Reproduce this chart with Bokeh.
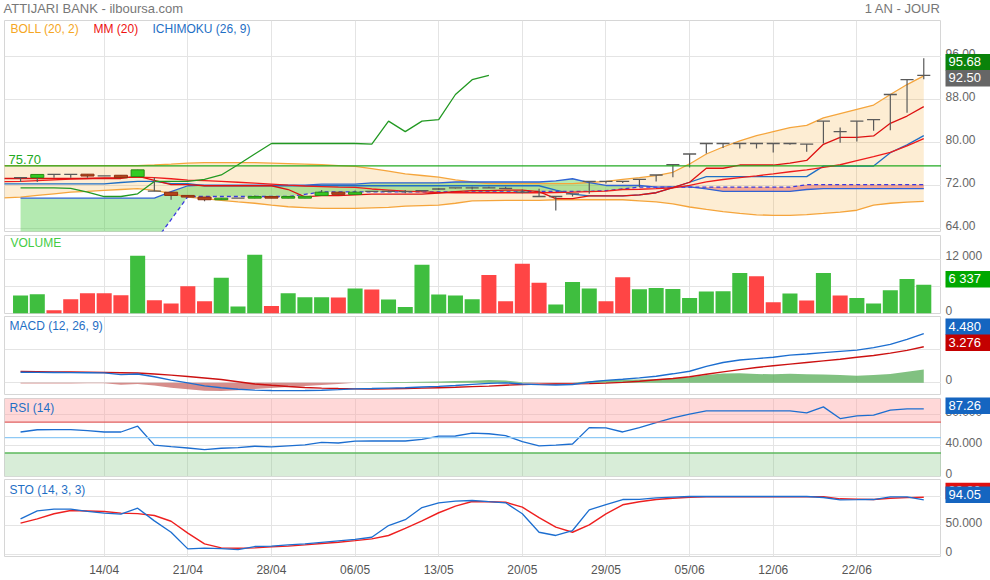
import numpy as np
from bokeh.plotting import figure
from bokeh.layouts import column, row
from bokeh.models import Range1d, FixedTicker, Label, Span, BoxAnnotation, ColumnDataSource
from bokeh.core.properties import value
from bokeh.embed import file_html
from bokeh.resources import INLINE

FONT = "Liberation Sans"

# ---------------- data ----------------
tick_idx = [5, 10, 15, 20, 25, 30, 35, 40, 45, 50]
tick_labels = ["14/04", "21/04", "28/04", "06/05", "13/05", "20/05", "29/05", "05/06", "12/06", "22/06"]

opens = [73.5, 73.5, 74.1, 74.1, 74.15, 73.85, 73.95, 73.7, 71.0, 70.8,
         70.2, 69.9, 69.4, 69.7, 69.7, 70.0, 69.7, 69.7, 70.2, 70.8,
         70.4, 70.95, 70.95, 70.9, 71.1, 71.4, 71.6, 71.6, 71.6, 71.5,
         70.8, 70.0, 70.0, 70.5, 72.8, 72.8, 72.8, 73.2, 74.0, 75.9,
         77.9, 79.85, 79.85, 79.85, 79.85, 79.85, 79.85, 79.75, 84.0, 82.05,
         84.0, 84.3, 88.95, 91.7, 92.5]
highs = [73.5, 74.1, 74.1, 74.1, 74.15, 73.85, 73.95, 74.95, 73.5, 70.8,
         70.2, 69.9, 69.7, 69.7, 70.2, 70.0, 70.0, 70.05, 71.2, 70.8,
         71.1, 70.95, 71.1, 71.2, 71.1, 71.6, 71.6, 71.8, 71.8, 71.8,
         71.3, 71.45, 70.0, 70.5, 72.8, 72.8, 72.8, 73.2, 74.0, 75.9,
         77.9, 79.85, 79.85, 79.85, 79.85, 79.85, 79.85, 79.75, 84.0, 82.8,
         84.0, 84.3, 88.95, 91.7, 95.68]
lows = [72.7, 72.7, 73.5, 73.5, 73.5, 73.85, 73.5, 73.7, 71.0, 69.4,
        69.9, 69.1, 69.4, 69.7, 69.7, 69.7, 69.7, 69.7, 70.2, 70.4,
        70.4, 70.95, 70.95, 70.6, 70.9, 71.2, 71.5, 71.3, 71.6, 71.5,
        70.6, 70.0, 67.4, 70.0, 70.5, 72.4, 72.5, 71.75, 72.8, 73.6,
        75.4, 78.0, 79.0, 78.9, 78.9, 78.2, 79.6, 78.3, 79.85, 80.0,
        80.2, 82.2, 82.3, 85.55, 91.8]
closes = [73.5, 74.1, 74.1, 74.1, 73.8, 73.85, 73.5, 74.95, 71.0, 70.2,
          69.9, 69.4, 69.7, 69.7, 70.0, 69.7, 70.0, 70.05, 70.8, 70.4,
          70.8, 70.95, 70.95, 70.9, 71.1, 71.4, 71.6, 71.6, 71.6, 71.5,
          70.8, 70.0, 70.0, 70.5, 72.8, 72.8, 72.8, 73.2, 74.0, 75.9,
          77.9, 79.85, 79.85, 79.85, 79.85, 79.85, 79.85, 79.75, 84.0, 82.05,
          84.0, 84.3, 88.95, 91.7, 92.5]

volumes = [3960, 4250, 740, 3130, 4470, 4470, 4020, 12740, 2900, 2230,
           6030, 2680, 7890, 1560, 12960, 1630, 4470, 3580, 3580, 3510,
           5520, 5300, 3060, 1410, 10730, 4180, 3960, 3130, 8490, 2680,
           10950, 6770, 2010, 6930, 5520, 2680, 7980, 5360, 5650, 5430,
           3420, 4850, 4920, 8940, 8200, 2460, 4400, 2840, 8940, 3960,
           3420, 2230, 5140, 7600, 6337]
vol_up = [1, 1, 0, 0, 0, 0, 0, 1, 0, 0,
          0, 0, 1, 1, 1, 0, 1, 1, 1, 0,
          1, 0, 1, 1, 1, 1, 1, 1, 0, 0,
          0, 0, 1, 1, 1, 0, 0, 1, 1, 1,
          1, 1, 1, 1, 0, 0, 1, 0, 1, 0,
          1, 1, 1, 1, 1]

# indicators from day -1 to 54
bb_upper = [75.75, 75.75, 75.75, 75.75, 75.75, 75.75, 75.75, 75.75, 75.75, 75.85,
            76.0, 76.2, 76.3, 76.3, 76.3, 76.3, 76.2, 76.1, 76.0, 75.9,
            75.75, 75.6, 75.2, 74.7, 74.2, 73.9, 73.6, 73.1, 72.7, 72.4,
            72.4, 72.4, 72.4, 72.4, 72.4, 72.6, 72.8, 73.2, 73.5, 73.9,
            74.5, 76.05, 77.9, 79.2, 80.35, 81.3, 82.05, 82.8, 83.2, 84.6,
            85.4, 86.2, 87.0, 88.95, 90.8, 92.4]
bb_lower = [69.75, 69.9, 70.2, 70.5, 70.8, 70.95, 71.15, 71.3, 71.45, 71.15,
            70.6, 69.9, 69.6, 69.3, 69.0, 68.75, 68.4, 68.1, 67.95, 67.8,
            67.8, 67.8, 67.9, 68.0, 68.2, 68.3, 68.4, 68.75, 69.2, 69.25,
            69.3, 69.3, 69.3, 69.4, 69.4, 69.4, 69.4, 69.4, 69.2, 69.0,
            68.65, 68.05, 67.6, 67.2, 66.85, 66.6, 66.5, 66.5, 66.65, 66.85,
            67.1, 67.45, 68.4, 68.75, 68.95, 69.1]
mm20 = [72.75, 72.8, 72.95, 73.1, 73.25, 73.35, 73.45, 73.5, 73.6, 73.5,
        73.3, 73.05, 72.95, 72.8, 72.65, 72.5, 72.3, 72.1, 71.95, 71.85,
        71.75, 71.7, 71.4, 71.2, 71.0, 70.85, 70.75, 70.7, 70.7, 70.7,
        70.7, 70.7, 70.7, 70.75, 70.8, 70.9, 71.0, 71.3, 71.35, 71.45,
        71.6, 72.05, 72.7, 73.16, 73.5, 73.84, 74.2, 74.6, 74.95, 75.4,
        75.9, 76.65, 77.4, 78.2, 79.4, 80.77]
tenkan = [73.35, 73.35, 73.35, 73.35, 73.35, 73.35, 73.35, 73.35, 73.8, 73.0,
          72.2, 72.2, 72.0, 72.0, 72.0, 72.0, 72.0, 71.3, 69.95, 70.15,
          70.15, 70.3, 70.45, 70.45, 70.45, 70.45, 70.65, 70.9, 71.1, 71.1,
          71.2, 71.2, 70.9, 69.6, 69.6, 70.1, 70.1, 70.1, 70.3, 70.7,
          71.65, 72.65, 75.25, 75.25, 75.85, 75.85, 75.85, 76.2, 76.7, 79.7,
          81.0, 81.0, 81.25, 83.6, 84.95, 86.7]
kijun = [72.35, 72.35, 72.35, 72.35, 72.35, 72.35, 72.35, 72.6, 72.8, 72.8,
         72.4, 72.4, 72.0, 72.0, 72.0, 72.0, 72.0, 72.0, 72.0, 72.0,
         72.0, 72.0, 72.0, 72.0, 72.0, 72.0, 72.0, 72.0, 72.0, 72.0,
         72.0, 72.0, 72.0, 71.2, 70.45, 70.1, 70.1, 70.1, 70.3, 70.7,
         71.65, 72.65, 73.7, 73.7, 73.7, 73.7, 73.7, 73.7, 73.7, 75.65,
         75.65, 75.65, 75.65, 78.15, 79.6, 81.3]
# cloud, days 0..54
senkou_a = [69.7, 69.7, 69.7, 69.7, 69.7, 69.7, 69.7, 69.7, 69.7, 70.9,
            72.0, 72.1, 72.1, 72.1, 72.1, 72.1, 72.1, 72.1, 72.3, 72.3,
            72.3, 72.55, 72.55, 72.55, 72.55, 72.55, 72.7, 72.7, 72.7, 72.7,
            72.7, 72.7, 72.9, 73.3, 72.6, 72.05, 72.05, 72.05, 71.75, 71.8,
            71.8, 71.4, 70.95, 70.95, 70.95, 70.95, 70.95, 71.3, 71.45, 71.45,
            71.45, 71.45, 71.45, 71.45, 71.45]
senkou_b = [58.0, 58.0, 58.0, 58.0, 58.0, 58.0, 58.0, 58.0, 61.5, 65.7,
            70.0, 70.0, 70.0, 70.0, 70.0, 70.0, 70.0, 70.4, 70.85, 70.85,
            70.85, 70.85, 70.85, 70.85, 70.85, 70.85, 70.85, 70.85, 70.85, 70.85,
            70.85, 70.95, 70.95, 70.95, 70.95, 71.1, 71.4, 71.75, 71.75, 71.75,
            71.75, 71.75, 71.75, 71.75, 71.75, 71.75, 71.75, 72.2, 72.2, 72.2,
            72.2, 72.2, 72.2, 72.2, 72.2]
ref_level = 75.70

macd = [0.96, 0.95, 0.94, 0.93, 0.92, 0.91, 0.75, 0.80, 0.55, 0.25,
        0.0, -0.28, -0.45, -0.58, -0.66, -0.70, -0.71, -0.70, -0.67, -0.62,
        -0.55, -0.52, -0.48, -0.44, -0.38, -0.32, -0.24, -0.14, -0.05, 0.0,
        -0.1, -0.16, -0.2, -0.15, 0.08, 0.22, 0.33, 0.45, 0.6, 0.82,
        1.05, 1.5, 1.85, 2.07, 2.2, 2.33, 2.52, 2.62, 2.75, 2.86,
        2.97, 3.2, 3.5, 3.95, 4.48]
signal = [1.03, 1.02, 1.0, 0.98, 0.96, 0.94, 0.92, 0.9, 0.8, 0.7,
          0.58, 0.44, 0.3, 0.1, -0.1, -0.22, -0.33, -0.42, -0.48, -0.52,
          -0.55, -0.56, -0.55, -0.52, -0.48, -0.44, -0.4, -0.34, -0.3, -0.22,
          -0.15, -0.12, -0.1, -0.09, -0.07, -0.03, 0.04, 0.15, 0.28, 0.4,
          0.55, 0.78, 1.0, 1.2, 1.4, 1.55, 1.7, 1.85, 2.0, 2.15,
          2.33, 2.48, 2.7, 2.95, 3.276]
rsi = [57.3, 60.2, 60.4, 60.4, 59.0, 57.3, 57.3, 64.8, 40.3, 38.2,
       36.5, 34.4, 36.2, 37.0, 38.8, 38.0, 39.3, 40.5, 43.9, 43.0,
       45.4, 45.6, 45.6, 45.6, 47.6, 52.0, 52.1, 55.8, 55.0, 52.6,
       44.8, 39.3, 40.2, 41.7, 63.0, 62.6, 57.3, 63.1, 69.5, 75.5,
       80.5, 84.7, 84.7, 84.7, 84.7, 84.7, 84.7, 82.1, 89.9, 74.8,
       78.3, 79.1, 85.6, 87.3, 87.26]
sto_k = [61.5, 75.3, 78.2, 78.2, 74.5, 71.3, 69.5, 79.9, 58.0, 38.5,
         9.8, 10.9, 10.0, 8.6, 13.8, 14.4, 16.5, 18.4, 21.0, 23.6,
         26.0, 29.8, 50.0, 60.0, 81.0, 89.1, 92.0, 93.1, 91.0, 89.1,
         70.2, 38.4, 32.8, 41.4, 77.0, 86.0, 94.8, 95.0, 97.5, 99.0,
         100, 100, 100, 100, 100, 100, 100, 100, 98.3, 94.3,
         94.5, 94.8, 99.5, 99.5, 94.05]
sto_d = [54.0, 61.5, 70.2, 75.9, 75.0, 74.1, 71.3, 70.5, 67.2, 57.4,
         37.0, 18.4, 11.5, 10.9, 11.5, 13.2, 14.5, 16.7, 19.0, 21.2,
         24.0, 27.0, 32.8, 45.0, 58.0, 72.0, 83.3, 91.4, 91.0, 90.2,
         81.6, 63.5, 47.1, 38.4, 51.2, 70.0, 85.7, 91.0, 94.8, 97.0,
         98.8, 99.5, 99.5, 99.5, 99.5, 99.5, 99.5, 99.5, 99.5, 96.0,
         95.5, 94.8, 97.0, 98.0, 98.8]

# ---------------- layout geometry (px) ----------------
HDR_H = 20
FRAME_W = 937
SIDE_W = 49
# name: (frame_h, y0, y1, border_top, border_bottom)
SPEC = {
    "main": (211, 63.5, 102.7, 0, 2),
    "vol": (78, 0, 17200, 2, 2),
    "macd": (78, -1.06, 6.03, 1, 2),
    "rsi": (78, -0.5, 100.8, 2, 2),
    "sto": (77, -3.4, 129.3, 1, 24),
}
ORDER = ["main", "vol", "macd", "rsi", "sto"]
FRAME_TOP = {}
_y = HDR_H
for _k in ORDER:
    fh, y0, y1, bt, bb = SPEC[_k]
    FRAME_TOP[_k] = _y + bt
    _y += bt + fh + bb
TOTAL_H = _y


def to_side(name, v):
    """pixel row (relative to the side column top) of value v in panel name"""
    fh, y0, y1, bt, bb = SPEC[name]
    return FRAME_TOP[name] - HDR_H + (y1 - v) * fh / (y1 - y0)


# ---------------- helpers ----------------
n = len(closes)
xi = np.arange(n)
xe = np.arange(-1, n)
o = np.array(opens); c = np.array(closes); h = np.array(highs); l = np.array(lows)
xr = Range1d(-0.96, 55.06)
GRID = "#e4e4e4"


def panel(name, ticks, xaxis=False):
    fh, y0, y1, bt, bb = SPEC[name]
    p = figure(frame_width=FRAME_W, frame_height=fh, x_range=xr, y_range=Range1d(y0, y1),
               output_backend="svg", toolbar_location=None,
               min_border_left=4, min_border_right=0, min_border_top=bt, min_border_bottom=bb,
               y_axis_location=None, x_axis_location="below" if xaxis else None)
    p.outline_line_color = "#d6d6d6"
    p.border_fill_color = "white"
    p.grid.grid_line_color = GRID
    p.xgrid.ticker = FixedTicker(ticks=tick_idx)
    p.ygrid.ticker = FixedTicker(ticks=ticks)
    return p


def title_label(p, text, color, x, y):
    p.add_layout(Label(x=x, y=y, x_units="screen", y_units="screen", text=text,
                       text_color=color, text_font=FONT, text_font_size="12px",
                       text_baseline="middle"))


# side column for value labels and last-value tags
side = figure(frame_width=SIDE_W, frame_height=TOTAL_H - HDR_H, x_range=Range1d(0, SIDE_W),
              y_range=Range1d(TOTAL_H - HDR_H, 0), output_backend="svg", toolbar_location=None,
              min_border=0, x_axis_location=None, y_axis_location=None)
side.outline_line_color = None
side.grid.visible = False

tick_rows = {"x": [], "y": [], "t": []}


def add_ticks(name, ticks, labels):
    for t, s in zip(ticks, labels):
        tick_rows["x"].append(4)
        tick_rows["y"].append(to_side(name, t))
        tick_rows["t"].append(s)


tags = []


def add_tag(name, v, text, color, shift):
    cy = to_side(name, v) + shift
    tags.append(dict(x=[7], y=[cy], top=[cy - 8], bottom=[cy + 8.5], t=[text], col=[color]))


# ---------------- header ----------------
hdr = figure(width=990, height=HDR_H, x_range=Range1d(0, 990), y_range=Range1d(0, HDR_H),
             output_backend="svg", toolbar_location=None, min_border=0,
             x_axis_location=None, y_axis_location=None)
hdr.outline_line_color = None
hdr.grid.visible = False
hdr.add_layout(Label(x=3, y=12, text="ATTIJARI BANK - ilboursa.com", text_color="#777777",
                     text_font=FONT, text_font_size="13px", text_baseline="middle"))
hdr.add_layout(Label(x=940, y=12, text="1 AN - JOUR", text_color="#777777", text_align="right",
                     text_font=FONT, text_font_size="13px", text_baseline="middle"))

# ---------------- main price panel ----------------
m_ticks = [64, 72, 80, 88, 96]
pm = panel("main", m_ticks)
add_ticks("main", m_ticks, [f"{t:.2f}" for t in m_ticks])

pm.varea(x=xe, y1=bb_lower, y2=bb_upper, fill_color="#f5a623", fill_alpha=0.2)
A = np.array(senkou_a); B = np.array(senkou_b)
pm.varea(x=xi, y1=B, y2=np.maximum(A, B), fill_color="#4ccc44", fill_alpha=0.42)
pm.varea(x=xi, y1=A, y2=np.maximum(A, B), fill_color="#e63c3c", fill_alpha=0.4)
pm.add_layout(Span(location=ref_level, dimension="width", line_color="#22aa22", line_width=1.3))
pm.add_layout(Label(x=4, y=ref_level, x_units="screen", text=f"{ref_level:.2f}", y_offset=2,
                    text_color="#22aa22", text_font=FONT, text_font_size="13px",
                    text_baseline="bottom"))

pm.line(xe, bb_upper, line_color="#f5a53c", line_width=1.3)
pm.line(xe, bb_lower, line_color="#f5a53c", line_width=1.3)
pm.line(xi, senkou_a, line_color="#2f62d4", line_width=1.3)
pm.line(xi, senkou_b, line_color="#3a3ae0", line_width=1.3, line_dash="4 3")
pm.line(xe, kijun, line_color="#1f6fc5", line_width=1.3)
pm.line(xe, mm20, line_color="#ee1c1c", line_width=1.3)
pm.line(xe, tenkan, line_color="#dd1111", line_width=1.3)
pm.line(xi[:n - 26], closes[26:], line_color="#229922", line_width=1.3)

up = c > o; dn = c < o; fl = c == o
pm.segment(x0=xi, y0=l, x1=xi, y1=h, line_color="#5a5a5a", line_width=1.2)
pm.vbar(x=xi[up], width=0.78, top=c[up], bottom=o[up], fill_color="#33cc22", line_color="#2a8a14")
pm.vbar(x=xi[dn], width=0.78, top=o[dn], bottom=c[dn], fill_color="#b5441c", line_color="#8e3010")
pm.segment(x0=xi[fl] - 0.39, y0=c[fl], x1=xi[fl] + 0.39, y1=c[fl], line_color="#5a5a5a", line_width=1.3)

title_label(pm, "BOLL (20, 2)", "#f5a623", 6, 203)
title_label(pm, "MM (20)", "#ee1111", 89, 203)
title_label(pm, "ICHIMOKU (26, 9)", "#1f6fc5", 148, 203)
add_tag("main", highs[-1], f"{highs[-1]:.2f}", "#0a820a", 3.7)
add_tag("main", closes[-1], f"{closes[-1]:.2f}", "#666666", 2.5)

# ---------------- volume ----------------
v_ticks = [0, 6000, 12000]
pv = panel("vol", v_ticks)
add_ticks("vol", v_ticks, ["0", "6 000", "12 000"])
vcol = ["#3fbe3f" if u else "#ff4545" for u in vol_up]
pv.vbar(x=xi, top=volumes, width=0.9, fill_color=vcol, line_color=None)
title_label(pv, "VOLUME", "#44cc44", 6, 71)
add_tag("vol", volumes[-1], f"{volumes[-1]:,}".replace(",", " "), "#00a800", -5.8)

# ---------------- MACD ----------------
c_ticks = [0, 3]
pc = panel("macd", c_ticks)
add_ticks("macd", c_ticks, ["0", "3.000"])
hist = np.array(macd) - np.array(signal)
pc.varea(x=xi, y1=0, y2=np.maximum(hist, 0), fill_color="#4ca64c", fill_alpha=0.7)
pc.varea(x=xi, y1=np.minimum(hist, 0), y2=0, fill_color="#c0504d", fill_alpha=0.65)
pc.line(xi, signal, line_color="#cc1111", line_width=1.4)
pc.line(xi, macd, line_color="#1c6ed0", line_width=1.4)
title_label(pc, "MACD (12, 26, 9)", "#1f6fc5", 5, 69)
add_tag("macd", macd[-1], f"{macd[-1]:.3f}", "#1565c0", -7)
add_tag("macd", signal[-1], f"{signal[-1]:.3f}", "#c40000", -4.3)

# ---------------- RSI ----------------
r_ticks = [0, 40, 80]
pr = panel("rsi", r_ticks)
add_ticks("rsi", r_ticks, ["0", "40.000", "80.000"])
pr.add_layout(BoxAnnotation(bottom=70, fill_color="#ff9e9e", fill_alpha=0.4, line_color=None, level="underlay"))
pr.add_layout(BoxAnnotation(top=30, fill_color="#7fc27f", fill_alpha=0.3, line_color=None, level="underlay"))
pr.add_layout(Span(location=70, dimension="width", line_color="#e06060", line_width=1.3))
pr.add_layout(Span(location=50, dimension="width", line_color="#8ec9f5", line_width=1.3))
pr.add_layout(Span(location=30, dimension="width", line_color="#5cb85c", line_width=1.3))
pr.line(xi, rsi, line_color="#1c6ed0", line_width=1.3)
title_label(pr, "RSI (14)", "#1f6fc5", 5, 69)
add_tag("rsi", rsi[-1], f"{rsi[-1]:.2f}", "#1565c0", -3.4)

# ---------------- STO ----------------
s_ticks = [0, 50, 100]
ps = panel("sto", s_ticks, xaxis=True)
add_ticks("sto", s_ticks, ["0", "50.000", "100.000"])
ps.line(xi, sto_d, line_color="#ee2020", line_width=1.4)
ps.line(xi, sto_k, line_color="#1c6ed0", line_width=1.3)
title_label(ps, "STO (14, 3, 3)", "#1f6fc5", 5, 67)
add_tag("sto", sto_d[-1], f"{sto_d[-1]:.2f}", "#e01010", -6.5)
add_tag("sto", sto_k[-1], f"{sto_k[-1]:.2f}", "#1565c0", -5.5)
xa = ps.xaxis[0]
xa.ticker = FixedTicker(ticks=tick_idx)
xa.major_label_overrides = {i: t for i, t in zip(tick_idx, tick_labels)}
xa.axis_line_color = None
xa.major_tick_line_color = None
xa.minor_tick_line_color = None
xa.major_tick_out = 0
xa.major_tick_in = 0
xa.major_label_text_color = "#555555"
xa.major_label_text_font = FONT
xa.major_label_text_font_size = "12px"
xa.major_label_standoff = 6

# ---------------- side column content ----------------
side.text(x="x", y="y", text="t", source=ColumnDataSource(tick_rows), text_baseline="middle",
          text_align="left", text_color="#666666", text_font=value(FONT), text_font_size="12px",
          y_offset=-3)
for tg in tags:  # each tag drawn box-then-text, in order, so later tags cover earlier ones
    src = ColumnDataSource(tg)
    side.quad(left=4, right=SIDE_W, top="top", bottom="bottom", fill_color="col", line_color=None,
              source=src)
    side.text(x="x", y="y", text="t", source=src, text_baseline="middle", text_align="left",
              text_color="white", text_font=value(FONT), text_font_size="13px")

panels = column(pm, pv, pc, pr, ps, spacing=0)
layout = column(hdr, row(panels, side, spacing=0), spacing=0)
open("out.html", "w").write(file_html(layout, INLINE))
